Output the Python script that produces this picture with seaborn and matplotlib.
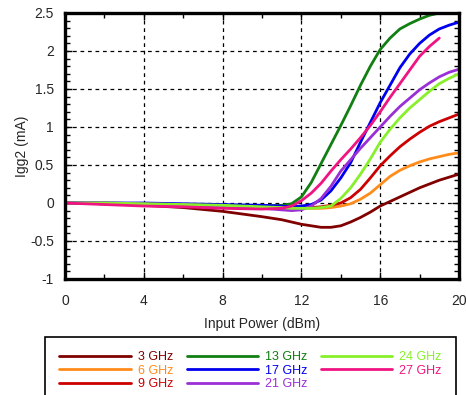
import numpy as np
import pandas as pd
import matplotlib
matplotlib.use("Agg")
import matplotlib.pyplot as plt
import seaborn as sns
from matplotlib.ticker import MultipleLocator

x_vals = [0, 2, 4, 6, 8, 10, 11, 11.5, 12, 12.5, 13, 13.5, 14, 14.5, 15, 15.5,
          16, 16.5, 17, 17.5, 18, 18.5, 19, 19.5, 20]

s3 = [0, -0.01, -0.03, -0.06, -0.11, -0.18, -0.22, -0.25, -0.28, -0.3, -0.32, -0.32,
      -0.3, -0.25, -0.19, -0.12, -0.04, 0.02, 0.08, 0.14, 0.2, 0.25, 0.3, 0.34, 0.38]
s6 = [0, -0.01, -0.02, -0.03, -0.04, -0.05, -0.06, -0.07, -0.07, -0.07, -0.07, -0.06,
      -0.04, -0.01, 0.05, 0.13, 0.24, 0.35, 0.43, 0.49, 0.54, 0.58, 0.61, 0.64, 0.66]
s9 = [0, -0.01, -0.02, -0.03, -0.04, -0.05, -0.06, -0.06, -0.06, -0.06, -0.05, -0.03,
      0.0, 0.07, 0.18, 0.33, 0.49, 0.62, 0.74, 0.84, 0.93, 1.01, 1.07, 1.12, 1.17]
s13 = [0, 0, -0.01, -0.02, -0.03, -0.04, -0.03, -0.01, 0.08, 0.27, 0.52, 0.77,
       1.02, 1.28, 1.55, 1.8, 2.02, 2.17, 2.29, 2.36, 2.42, 2.47, 2.5, 2.53, 2.55]
s17 = [0, 0, 0, -0.01, -0.02, -0.03, -0.04, -0.05, -0.04, -0.02, 0.04, 0.16,
       0.33, 0.53, 0.8, 1.06, 1.32, 1.55, 1.78, 1.96, 2.1, 2.21, 2.29, 2.34, 2.38]
s21 = [0, 0, -0.01, -0.02, -0.04, -0.07, -0.09, -0.1, -0.09, -0.04, 0.06, 0.22,
       0.42, 0.57, 0.72, 0.86, 1.0, 1.14, 1.27, 1.38, 1.49, 1.58, 1.66, 1.72, 1.76]
s24 = [0, 0, -0.01, -0.02, -0.03, -0.05, -0.06, -0.07, -0.07, -0.07, -0.06, -0.04,
       0.06, 0.2, 0.38, 0.58, 0.8, 0.97, 1.12, 1.25, 1.36, 1.47, 1.57, 1.64, 1.7]
s27 = [0, -0.02, -0.04, -0.05, -0.07, -0.08, -0.07, -0.04, 0.03, 0.13, 0.26, 0.42,
       0.57, 0.71, 0.86, 1.02, 1.2, 1.39, 1.57, 1.75, 1.93, 2.06, 2.17, np.nan, np.nan]

labels = ["3 GHz", "6 GHz", "9 GHz", "13 GHz", "17 GHz", "21 GHz", "24 GHz", "27 GHz"]
series = [s3, s6, s9, s13, s17, s21, s24, s27]
colors = ["#800000", "#FF8C1A", "#CC0000", "#117F11", "#0000EE", "#9A2FD6", "#88F02A", "#F01482"]

x_ticks = [0, 4, 8, 12, 16, 20]
y_ticks = [-1, -0.5, 0, 0.5, 1, 1.5, 2, 2.5]
y_tick_labels = ["-1", "-0.5", "0", "0.5", "1", "1.5", "2", "2.5"]

rows = []
for lab, ys in zip(labels, series):
    for xv, yv in zip(x_vals, ys):
        rows.append({"x": xv, "y": yv, "freq": lab})
df = pd.DataFrame(rows).dropna()

sns.set_style("white")
plt.rcParams["font.family"] = ["Liberation Sans", "DejaVu Sans"]

fig = plt.figure(figsize=(4.66, 3.95), dpi=100)
ax = fig.add_axes([65 / 466, 1 - 279 / 395, (459 - 65) / 466, (279 - 13) / 395])

sns.lineplot(data=df, x="x", y="y", hue="freq", hue_order=labels,
             palette=dict(zip(labels, colors)), linewidth=2, ax=ax,
             estimator=None, sort=False, legend=True)

ax.set_xlim(0, 20)
ax.set_ylim(-1, 2.5)
ax.set_xticks(x_ticks)
ax.set_xticklabels([str(t) for t in x_ticks])
ax.set_yticks(y_ticks)
ax.set_yticklabels(y_tick_labels)
ax.xaxis.set_minor_locator(MultipleLocator(2))
ax.yaxis.set_minor_locator(MultipleLocator(0.1))
ax.tick_params(which="both", direction="in", top=True, right=True, bottom=True, left=True,
               labelsize=10, color="black", width=1)
ax.tick_params(which="major", length=5)
ax.tick_params(axis="x", which="major", pad=11)
ax.tick_params(axis="y", which="major", pad=8)
ax.tick_params(which="minor", length=3.5)
ax.grid(True, which="major", color="black", linestyle=(0, (3, 3)), linewidth=0.9)
for sp in ax.spines.values():
    sp.set_color("black")
    sp.set_linewidth(2.4)
ax.set_xlabel("Input Power (dBm)", fontsize=10, labelpad=6)
ax.set_ylabel("Igg2 (mA)", fontsize=10, labelpad=1)

handles, labs = ax.get_legend_handles_labels()
ax.get_legend().remove()
leg = fig.legend(handles, labs, ncol=3, loc="upper left",
                 bbox_to_anchor=(45 / 466, 1 - 337 / 395), fontsize=9,
                 labelcolor="linecolor", handlelength=5.7, handletextpad=0.55,
                 columnspacing=1.1, labelspacing=0.1, borderpad=1.15, borderaxespad=0,
                 frameon=True, fancybox=False, edgecolor="black", framealpha=1)
leg.get_frame().set_linewidth(1.2)

fig.savefig("out.png", dpi=100)
